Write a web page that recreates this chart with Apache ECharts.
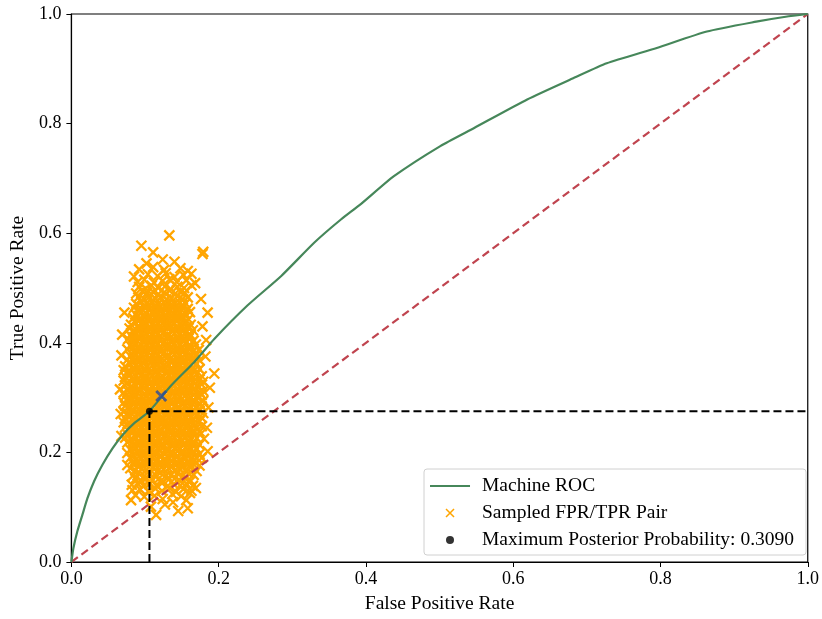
<!DOCTYPE html>
<html>
<head>
<meta charset="utf-8">
<script src="https://cdn.jsdelivr.net/npm/echarts@6/dist/echarts.min.js"></script>
<style>
html,body{margin:0;padding:0;background:#fff;}
#chart{width:822px;height:619px;}
</style>
</head>
<body>
<div id="chart"></div>
<script>
// Machine ROC curve (FPR, TPR)
var rocFPR = [0, 0.0027, 0.0081, 0.0149, 0.0217, 0.0307, 0.042, 0.0556, 0.069, 0.085, 0.105, 0.1355, 0.167, 0.194, 0.239, 0.285, 0.330, 0.366, 0.393, 0.438, 0.501, 0.547, 0.619, 0.682, 0.727, 0.795, 0.863, 0.930, 0.970, 1.0];
var rocTPR = [0, 0.025, 0.056, 0.086, 0.116, 0.147, 0.177, 0.207, 0.231, 0.253, 0.274, 0.322, 0.365, 0.407, 0.468, 0.522, 0.583, 0.625, 0.653, 0.704, 0.759, 0.792, 0.844, 0.883, 0.910, 0.938, 0.968, 0.986, 0.995, 1.0];

// Chance diagonal
var chanceFPR = [0, 1];
var chanceTPR = [0, 1];

// Maximum posterior probability point and its label value
var mapPoint = [0.106, 0.275];
var mapProbability = '0.3090';

// Highlighted sample (blue cross)
var markedSample = [0.122, 0.303];

// Sampled FPR/TPR pairs
var sampledPairs = [
[0.115,0.086],[0.145,0.093],[0.158,0.098],[0.108,0.101],[0.127,0.105],[0.138,0.109],[0.081,0.113],[0.156,0.113],[0.124,0.115],
[0.087,0.122],[0.099,0.119],[0.113,0.121],[0.137,0.124],[0.149,0.120],[0.161,0.126],
[0.083,0.131],[0.093,0.133],[0.104,0.129],[0.114,0.134],[0.123,0.130],[0.133,0.135],[0.142,0.128],[0.152,0.133],[0.163,0.130],[0.169,0.135],
[0.082,0.141],[0.090,0.143],[0.098,0.139],[0.106,0.142],[0.115,0.140],[0.123,0.144],[0.131,0.139],[0.139,0.142],[0.148,0.140],[0.156,0.143],[0.165,0.139],
[0.087,0.152],[0.095,0.148],[0.102,0.153],[0.110,0.149],[0.118,0.151],[0.125,0.147],[0.132,0.150],[0.140,0.152],[0.147,0.149],[0.155,0.153],[0.162,0.148],
[0.084,0.158],[0.091,0.162],[0.099,0.157],[0.106,0.161],[0.114,0.159],[0.121,0.163],[0.129,0.158],[0.136,0.160],[0.144,0.162],[0.151,0.157],[0.159,0.161],[0.166,0.159],
[0.080,0.171],[0.087,0.167],[0.095,0.170],[0.102,0.168],[0.110,0.172],[0.117,0.166],[0.125,0.169],[0.132,0.171],[0.140,0.167],[0.147,0.170],[0.155,0.168],[0.162,0.172],[0.170,0.166],
[0.076,0.177],[0.084,0.180],[0.091,0.176],[0.099,0.179],[0.106,0.181],[0.114,0.177],[0.121,0.178],[0.129,0.180],[0.136,0.176],[0.144,0.179],[0.151,0.177],[0.159,0.181],[0.166,0.178],[0.174,0.176],
[0.080,0.190],[0.087,0.186],[0.095,0.189],[0.102,0.187],[0.110,0.191],[0.117,0.188],[0.125,0.186],[0.132,0.190],[0.140,0.188],[0.147,0.185],[0.155,0.189],[0.162,0.187],[0.170,0.190],[0.177,0.190],
[0.076,0.199],[0.084,0.195],[0.091,0.198],[0.099,0.196],[0.106,0.200],[0.114,0.197],[0.121,0.195],[0.129,0.199],[0.136,0.197],[0.144,0.194],[0.151,0.198],[0.159,0.196],[0.166,0.200],[0.174,0.197],[0.185,0.202],
[0.080,0.205],[0.087,0.209],[0.095,0.206],[0.102,0.208],[0.110,0.204],[0.117,0.207],[0.125,0.210],[0.132,0.205],[0.140,0.208],[0.147,0.206],[0.155,0.209],[0.162,0.205],[0.170,0.207],
[0.076,0.218],[0.084,0.214],[0.091,0.217],[0.099,0.215],[0.106,0.219],[0.114,0.216],[0.121,0.213],[0.129,0.218],[0.136,0.215],[0.144,0.217],[0.151,0.214],[0.159,0.219],[0.166,0.216],[0.174,0.214],
[0.073,0.227],[0.080,0.224],[0.087,0.228],[0.095,0.225],[0.102,0.227],[0.110,0.223],[0.117,0.226],[0.125,0.229],[0.132,0.224],[0.140,0.227],[0.147,0.225],[0.155,0.228],[0.162,0.224],[0.170,0.226],[0.180,0.225],[0.068,0.230],
[0.076,0.233],[0.084,0.237],[0.091,0.234],[0.099,0.236],[0.106,0.232],[0.114,0.235],[0.121,0.238],[0.129,0.233],[0.136,0.236],[0.144,0.234],[0.151,0.237],[0.159,0.233],[0.166,0.235],[0.174,0.238],
[0.073,0.246],[0.080,0.243],[0.087,0.247],[0.095,0.244],[0.102,0.246],[0.110,0.242],[0.117,0.245],[0.125,0.248],[0.132,0.243],[0.140,0.246],[0.147,0.244],[0.155,0.247],[0.162,0.243],[0.170,0.245],[0.177,0.248],[0.184,0.245],
[0.071,0.255],[0.076,0.252],[0.084,0.256],[0.091,0.253],[0.099,0.255],[0.106,0.251],[0.114,0.254],[0.121,0.257],[0.129,0.252],[0.136,0.255],[0.144,0.253],[0.151,0.256],[0.159,0.252],[0.166,0.254],[0.174,0.257],
[0.073,0.262],[0.080,0.266],[0.087,0.263],[0.095,0.265],[0.102,0.261],[0.110,0.264],[0.117,0.267],[0.125,0.262],[0.132,0.265],[0.140,0.263],[0.147,0.266],[0.155,0.262],[0.162,0.264],[0.170,0.267],[0.177,0.263],[0.067,0.270],
[0.071,0.274],[0.076,0.271],[0.084,0.275],[0.091,0.272],[0.099,0.274],[0.106,0.270],[0.114,0.273],[0.121,0.276],[0.129,0.271],[0.136,0.274],[0.144,0.272],[0.151,0.275],[0.159,0.271],[0.166,0.273],[0.174,0.276],[0.179,0.272],
[0.073,0.285],[0.080,0.281],[0.087,0.284],[0.095,0.282],[0.102,0.286],[0.110,0.283],[0.117,0.280],[0.125,0.285],[0.132,0.282],[0.140,0.284],[0.147,0.281],[0.155,0.286],[0.162,0.283],[0.170,0.281],[0.177,0.284],[0.186,0.282],
[0.071,0.291],[0.076,0.294],[0.084,0.290],[0.091,0.293],[0.099,0.291],[0.106,0.295],[0.114,0.292],[0.121,0.289],[0.129,0.294],[0.136,0.291],[0.144,0.293],[0.151,0.290],[0.159,0.295],[0.166,0.292],[0.174,0.290],[0.179,0.294],
[0.073,0.303],[0.080,0.300],[0.087,0.304],[0.095,0.301],[0.102,0.303],[0.110,0.299],[0.117,0.302],[0.125,0.305],[0.132,0.300],[0.140,0.303],[0.147,0.301],[0.155,0.304],[0.162,0.300],[0.170,0.302],[0.177,0.305],
[0.071,0.309],[0.076,0.313],[0.084,0.310],[0.091,0.312],[0.099,0.308],[0.106,0.311],[0.114,0.314],[0.121,0.309],[0.129,0.312],[0.136,0.310],[0.144,0.313],[0.151,0.309],[0.159,0.311],[0.166,0.314],[0.174,0.310],[0.179,0.312],[0.066,0.315],
[0.073,0.322],[0.080,0.319],[0.087,0.323],[0.095,0.320],[0.102,0.322],[0.110,0.318],[0.117,0.321],[0.125,0.324],[0.132,0.319],[0.140,0.322],[0.147,0.320],[0.155,0.323],[0.162,0.319],[0.170,0.321],[0.177,0.324],[0.188,0.318],
[0.071,0.331],[0.076,0.328],[0.084,0.332],[0.091,0.329],[0.099,0.331],[0.106,0.327],[0.114,0.330],[0.121,0.333],[0.129,0.328],[0.136,0.331],[0.144,0.329],[0.151,0.332],[0.159,0.328],[0.166,0.330],[0.174,0.333],[0.179,0.329],
[0.073,0.338],[0.080,0.342],[0.087,0.339],[0.095,0.341],[0.102,0.337],[0.110,0.340],[0.117,0.343],[0.125,0.338],[0.132,0.341],[0.140,0.339],[0.147,0.342],[0.155,0.338],[0.162,0.340],[0.170,0.343],[0.177,0.339],[0.194,0.344],
[0.071,0.350],[0.076,0.347],[0.084,0.351],[0.091,0.348],[0.099,0.350],[0.106,0.346],[0.114,0.349],[0.121,0.352],[0.129,0.347],[0.136,0.350],[0.144,0.348],[0.151,0.351],[0.159,0.347],[0.166,0.349],[0.174,0.352],
[0.073,0.357],[0.080,0.361],[0.087,0.358],[0.095,0.360],[0.102,0.356],[0.110,0.359],[0.117,0.362],[0.125,0.357],[0.132,0.360],[0.140,0.358],[0.147,0.361],[0.155,0.357],[0.162,0.359],[0.170,0.362],
[0.076,0.369],[0.084,0.366],[0.091,0.370],[0.099,0.367],[0.106,0.369],[0.114,0.365],[0.121,0.368],[0.129,0.371],[0.136,0.366],[0.144,0.369],[0.151,0.367],[0.159,0.370],[0.166,0.366],[0.174,0.368],[0.182,0.375],[0.068,0.377],
[0.080,0.376],[0.087,0.380],[0.095,0.377],[0.102,0.379],[0.110,0.375],[0.117,0.378],[0.125,0.381],[0.132,0.376],[0.140,0.379],[0.147,0.377],[0.155,0.380],[0.162,0.376],[0.170,0.378],
[0.076,0.388],[0.084,0.385],[0.091,0.389],[0.099,0.386],[0.106,0.388],[0.114,0.384],[0.121,0.387],[0.129,0.390],[0.136,0.385],[0.144,0.388],[0.151,0.386],[0.159,0.389],[0.166,0.385],[0.173,0.387],
[0.080,0.395],[0.087,0.399],[0.095,0.396],[0.102,0.398],[0.110,0.394],[0.117,0.397],[0.125,0.400],[0.132,0.395],[0.140,0.398],[0.147,0.396],[0.155,0.399],[0.162,0.395],[0.169,0.397],[0.183,0.405],
[0.077,0.407],[0.084,0.404],[0.091,0.408],[0.099,0.405],[0.106,0.407],[0.114,0.403],[0.121,0.406],[0.129,0.409],[0.136,0.404],[0.144,0.407],[0.151,0.405],[0.159,0.408],[0.166,0.404],[0.069,0.415],
[0.080,0.414],[0.087,0.418],[0.095,0.415],[0.102,0.417],[0.110,0.413],[0.117,0.416],[0.125,0.419],[0.132,0.414],[0.140,0.417],[0.147,0.415],[0.155,0.418],[0.162,0.414],
[0.079,0.426],[0.084,0.423],[0.091,0.427],[0.099,0.424],[0.106,0.426],[0.114,0.422],[0.121,0.425],[0.129,0.428],[0.136,0.423],[0.144,0.426],[0.151,0.424],[0.159,0.427],[0.165,0.423],[0.178,0.430],
[0.081,0.433],[0.087,0.437],[0.095,0.434],[0.102,0.436],[0.110,0.432],[0.117,0.435],[0.125,0.438],[0.132,0.433],[0.140,0.436],[0.147,0.434],[0.155,0.437],[0.162,0.433],
[0.084,0.445],[0.091,0.442],[0.099,0.446],[0.106,0.443],[0.114,0.445],[0.121,0.441],[0.129,0.444],[0.136,0.447],[0.144,0.442],[0.151,0.445],[0.159,0.443],
[0.087,0.452],[0.095,0.456],[0.102,0.453],[0.110,0.455],[0.117,0.451],[0.125,0.454],[0.132,0.457],[0.140,0.452],[0.147,0.455],[0.155,0.453],[0.161,0.456],[0.185,0.455],[0.072,0.455],
[0.085,0.464],[0.091,0.461],[0.099,0.465],[0.106,0.462],[0.114,0.464],[0.121,0.460],[0.129,0.463],[0.136,0.466],[0.144,0.461],[0.151,0.464],[0.158,0.462],
[0.088,0.471],[0.095,0.475],[0.102,0.472],[0.110,0.474],[0.117,0.470],[0.125,0.473],[0.132,0.476],[0.140,0.471],[0.147,0.474],[0.155,0.472],[0.176,0.480],
[0.091,0.483],[0.099,0.480],[0.106,0.484],[0.114,0.481],[0.121,0.483],[0.129,0.479],[0.136,0.482],[0.144,0.485],[0.151,0.480],[0.158,0.483],
[0.088,0.490],[0.096,0.494],[0.103,0.491],[0.111,0.493],[0.118,0.489],[0.126,0.492],[0.133,0.495],[0.141,0.490],[0.148,0.493],[0.154,0.491],
[0.092,0.502],[0.101,0.499],[0.109,0.504],[0.118,0.500],[0.127,0.503],[0.135,0.498],[0.144,0.502],[0.153,0.500],[0.163,0.505],
[0.090,0.511],[0.099,0.515],[0.112,0.510],[0.124,0.513],[0.133,0.516],[0.143,0.511],[0.156,0.514],[0.168,0.509],
[0.085,0.521],[0.104,0.525],[0.117,0.522],[0.128,0.527],[0.140,0.520],[0.152,0.524],[0.163,0.526],
[0.092,0.534],[0.111,0.538],[0.126,0.533],[0.148,0.536],[0.158,0.531],
[0.102,0.545],[0.140,0.548],[0.124,0.552],[0.111,0.565],[0.178,0.562],[0.179,0.566],[0.095,0.577],[0.133,0.596]
];

// Additional sampled pairs from the densest part of the cloud
var sampledCorePairs = [
[0.091,0.183],[0.106,0.184],[0.121,0.182],[0.136,0.185],[0.151,0.183],[0.166,0.184],
[0.084,0.202],[0.099,0.203],[0.114,0.201],[0.129,0.204],[0.144,0.202],[0.159,0.203],
[0.091,0.221],[0.106,0.222],[0.121,0.220],[0.136,0.222],[0.151,0.221],[0.166,0.220],
[0.084,0.240],[0.099,0.241],[0.114,0.239],[0.129,0.241],[0.144,0.240],[0.159,0.239],
[0.091,0.259],[0.106,0.258],[0.121,0.260],[0.136,0.259],[0.151,0.258],[0.166,0.260],
[0.084,0.278],[0.099,0.279],[0.114,0.277],[0.129,0.278],[0.144,0.279],[0.159,0.277],
[0.091,0.297],[0.106,0.298],[0.121,0.296],[0.136,0.297],[0.151,0.298],[0.166,0.296],
[0.084,0.316],[0.099,0.317],[0.114,0.315],[0.129,0.316],[0.144,0.317],[0.159,0.315],
[0.091,0.335],[0.106,0.334],[0.121,0.336],[0.136,0.335],[0.151,0.334],[0.166,0.336],
[0.084,0.354],[0.099,0.353],[0.114,0.355],[0.129,0.354],[0.144,0.353],[0.159,0.355],
[0.091,0.373],[0.106,0.372],[0.121,0.374],[0.136,0.373],[0.151,0.372],[0.166,0.374],
[0.084,0.392],[0.099,0.391],[0.114,0.393],[0.129,0.392],[0.144,0.391],[0.159,0.393],
[0.091,0.411],[0.106,0.410],[0.121,0.412],[0.136,0.411],[0.151,0.410],
[0.099,0.430],[0.114,0.429],[0.129,0.431],[0.144,0.430],[0.157,0.429],
[0.091,0.449],[0.106,0.448],[0.121,0.450],[0.136,0.449],[0.151,0.448],
[0.099,0.468],[0.114,0.467],[0.129,0.469],[0.144,0.468],
[0.099,0.184],[0.114,0.183],[0.129,0.185],[0.144,0.182],[0.159,0.184],
[0.091,0.203],[0.106,0.202],[0.121,0.204],[0.136,0.201],[0.151,0.203],[0.166,0.202],
[0.084,0.220],[0.099,0.222],[0.114,0.221],[0.129,0.220],[0.144,0.222],[0.159,0.221],
[0.091,0.241],[0.106,0.239],[0.121,0.240],[0.136,0.241],[0.151,0.239],[0.166,0.240],
[0.084,0.258],[0.099,0.260],[0.114,0.259],[0.129,0.258],[0.144,0.260],[0.159,0.259],
[0.091,0.279],[0.106,0.277],[0.121,0.278],[0.136,0.279],[0.151,0.277],[0.166,0.278],
[0.084,0.296],[0.099,0.298],[0.114,0.297],[0.129,0.296],[0.144,0.298],[0.159,0.297],
[0.091,0.317],[0.106,0.315],[0.121,0.316],[0.136,0.317],[0.151,0.315],[0.166,0.316],
[0.084,0.334],[0.099,0.336],[0.114,0.335],[0.129,0.334],[0.144,0.336],[0.159,0.335],
[0.091,0.355],[0.106,0.353],[0.121,0.354],[0.136,0.355],[0.151,0.353],[0.166,0.354],
[0.084,0.372],[0.099,0.374],[0.114,0.373],[0.129,0.372],[0.144,0.374],[0.159,0.373],
[0.091,0.393],[0.106,0.391],[0.121,0.392],[0.136,0.393],[0.151,0.391],
[0.084,0.410],[0.099,0.412],[0.114,0.411],[0.129,0.410],[0.144,0.412],[0.158,0.411],
[0.091,0.431],[0.106,0.429],[0.121,0.430],[0.136,0.431],[0.151,0.429],
[0.099,0.450],[0.114,0.448],[0.129,0.449],[0.144,0.450],
[0.106,0.469],[0.121,0.467],[0.136,0.468],[0.151,0.469]
];

// Axis ticks
var xTicks = [0, 0.2, 0.4, 0.6, 0.8, 1.0];
var yTicks = [0, 0.2, 0.4, 0.6, 0.8, 1.0];

var FONT = 'Liberation Serif';
var crossPath = 'path://M0,0L10,10M10,0L0,10';
var lineIcon = 'path://M0,4L40,4L40,6L0,6Z';

function zip(a, b) { return a.map(function (v, i) { return [v, b[i]]; }); }

var chart = echarts.init(document.getElementById('chart'), null, { renderer: 'canvas' });
var mapName = 'Maximum Posterior Probability: ' + mapProbability;
var ORANGE = '#ffa500';
var sampleStyle = { color: 'transparent', borderColor: ORANGE, borderWidth: 2.3, opacity: 1 };

var option = {
  animation: false,
  backgroundColor: '#fff',
  grid: { left: 70, right: 14, top: 14, bottom: 55, show: true, borderColor: '#000', borderWidth: 1.2, containLabel: false },
  xAxis: {
    type: 'value', min: xTicks[0], max: xTicks[xTicks.length - 1], interval: 0.2,
    name: 'False Positive Rate', nameLocation: 'middle', nameGap: 32,
    nameTextStyle: { fontFamily: FONT, fontSize: 19.5, color: '#000' },
    axisLine: { show: true, lineStyle: { color: '#000', width: 1.2 } },
    axisTick: { show: true, inside: false, length: 5, lineStyle: { color: '#000', width: 1 } },
    axisLabel: { fontFamily: FONT, fontSize: 18, color: '#000', margin: 8, formatter: function (v) { return v.toFixed(1); } },
    splitLine: { show: false }
  },
  yAxis: {
    type: 'value', min: yTicks[0], max: yTicks[yTicks.length - 1], interval: 0.2,
    name: 'True Positive Rate', nameLocation: 'middle', nameGap: 43, nameRotate: 90,
    nameTextStyle: { fontFamily: FONT, fontSize: 19.5, color: '#000' },
    axisLine: { show: true, lineStyle: { color: '#000', width: 1.2 } },
    axisTick: { show: true, inside: false, length: 5, lineStyle: { color: '#000', width: 1 } },
    axisLabel: { fontFamily: FONT, fontSize: 18, color: '#000', margin: 10, formatter: function (v) { return v.toFixed(1); } },
    splitLine: { show: false }
  },
  legend: {
    orient: 'vertical', right: 16, bottom: 64,
    data: [
      { name: 'Machine ROC', icon: lineIcon },
      { name: 'Sampled FPR/TPR Pair', icon: crossPath, itemStyle: { borderWidth: 1.5 } },
      { name: mapName, icon: 'circle' }
    ],
    itemWidth: 40, itemHeight: 8, itemGap: 7,
    padding: [7, 12, 5, 6],
    backgroundColor: '#fff', borderColor: '#d0d0d0', borderWidth: 1, borderRadius: 3,
    textStyle: { fontFamily: FONT, fontSize: 19.5, color: '#000', padding: [0, 0, 0, 7] },
    selectedMode: false
  },
  series: [
    {
      name: 'Sampled FPR/TPR Pair', type: 'scatter', z: 1,
      symbol: crossPath, symbolSize: 10,
      itemStyle: sampleStyle,
      emphasis: { disabled: true },
      data: sampledPairs
    },
    {
      name: 'Sampled FPR/TPR Pair', type: 'scatter', z: 1,
      symbol: crossPath, symbolSize: 10,
      itemStyle: sampleStyle,
      emphasis: { disabled: true },
      data: sampledCorePairs
    },
    {
      name: 'Machine ROC', type: 'line', z: 3, symbol: 'none', smooth: 0.2,
      lineStyle: { color: '#46875a', width: 2.2 },
      itemStyle: { color: '#46875a' },
      data: zip(rocFPR, rocTPR)
    },
    {
      name: 'chance', type: 'line', z: 2, symbol: 'none',
      lineStyle: { color: '#c0444f', width: 2.2, type: [8, 4.5] },
      data: zip(chanceFPR, chanceTPR)
    },
    {
      name: 'mapV', type: 'line', z: 4, symbol: 'none',
      lineStyle: { color: '#000', width: 2, type: [8, 4] },
      data: [[mapPoint[0], 0], [mapPoint[0], mapPoint[1]]]
    },
    {
      name: 'mapH', type: 'line', z: 4, symbol: 'none',
      lineStyle: { color: '#000', width: 2, type: [8, 4] },
      data: [[mapPoint[0], mapPoint[1]], [1, mapPoint[1]]]
    },
    {
      name: mapName, type: 'scatter', z: 6, symbol: 'circle', symbolSize: 7,
      itemStyle: { color: '#000' },
      data: [mapPoint]
    },
    {
      name: 'marked', type: 'scatter', z: 6, symbol: crossPath, symbolSize: 10,
      itemStyle: { color: 'transparent', borderColor: '#2a4b9b', borderWidth: 3 },
      data: [markedSample]
    }
  ]
};
chart.setOption(option);
</script>
</body>
</html>
